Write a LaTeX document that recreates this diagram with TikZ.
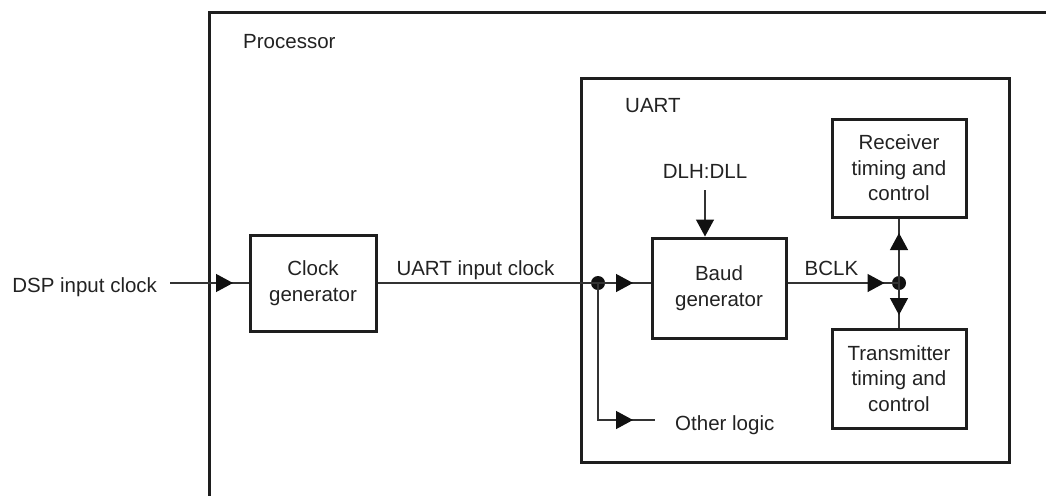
\documentclass[tikz,border=0pt]{standalone}
\usepackage{fontspec}
\setmainfont{Liberation Sans}
\usetikzlibrary{arrows.meta,decorations.markings}
\definecolor{txt}{HTML}{222222}
\definecolor{boxc}{HTML}{1E1E1E}
\definecolor{wirec}{HTML}{333333}
\definecolor{tipc}{HTML}{111111}
\begin{document}
\begin{tikzpicture}[x=1pt,y=-1pt,
  every node/.style={font=\fontsize{20.5}{25.5}\selectfont, text=txt},
  blk/.style={draw=boxc, line width=3pt, align=center, inner sep=0},
  frame/.style={draw=boxc, line width=3pt},
  wire/.style={draw=wirec, line width=1.3pt},
  lbl/.style={inner sep=0},
  tip/.style={-{Triangle[length=17pt,width=18pt,color=tipc]}},
  midtri/.style={postaction={decorate,decoration={markings,
     mark=at position #1 with {\arrow[tipc]{Triangle[length=17pt,width=18pt]}}}}},
  jdot/.style={circle, fill=tipc, inner sep=0, minimum size=14pt}
]
\useasboundingbox (0,0) rectangle (1046,496);
% processor frame
\draw[frame] (1046,12) -- (209,12) -- (209,496);
\node[lbl, anchor=base west] (proc) at (243,48) {Processor};
% UART frame
\node[frame, minimum width=428pt, minimum height=384pt, inner sep=0] (uart) at (795,270) {};
\node[lbl, anchor=base west] (uartl) at (625,112) {UART};
% blocks
\node[blk, minimum width=126pt, minimum height=96pt] (clk) at (313,283) {Clock\\generator};
\node[blk, minimum width=134pt, minimum height=100pt] (baud) at (719,288) {Baud\\generator};
\node[blk, minimum width=134pt, minimum height=98pt] (rx) at (899,168) {Receiver\\timing and\\control};
\node[blk, minimum width=134pt, minimum height=99pt] (tx) at (899,378.5) {Transmitter\\timing and\\control};
% labels
\node[lbl, anchor=base east, outer xsep=13pt] (dsp) at (170,292) {DSP input clock};
\node[lbl, anchor=base] (uic) at (475.5,275) {UART input clock};
\node[lbl, anchor=base] (bclk) at (831.5,275) {BCLK};
\node[lbl, anchor=base, outer ysep=12pt] (dlh) at (705,178) {DLH:DLL};
\node[lbl, anchor=base west] (other) at (675,430) {Other logic};
\coordinate (olend) at (655,420);
% junctions
\node[jdot] (j1) at (598,283) {};
\node[jdot] (j2) at (899,283) {};
% connectors
\draw[wire, midtri=63pt] (dsp.east |- clk.west) -- (clk.west);
\draw[wire] (clk.east) -- (j1.center);
\draw[wire, midtri=35pt] (j1.center) -- (j1.center -| baud.west);
\draw[wire, midtri=172pt] (j1.center) |- (olend);
\draw[wire, tip] (dlh.south) -- (dlh.south |- baud.north);
\draw[wire, midtri=97pt] (baud.east |- j2.center) -- (j2.center);
\draw[wire, midtri=50pt] (j2.center) -- (rx.south);
\draw[wire, midtri=32pt] (j2.center) -- (tx.north);
\end{tikzpicture}
\end{document}
